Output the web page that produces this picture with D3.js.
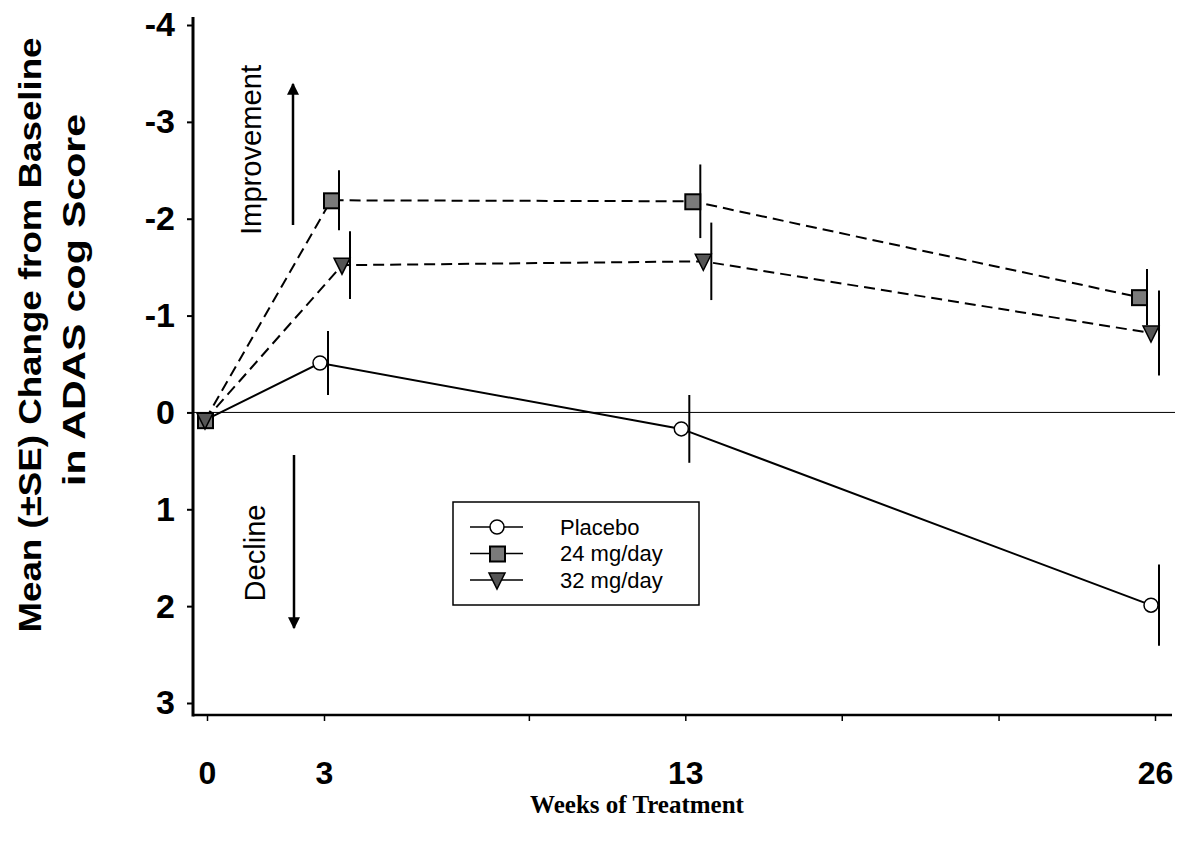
<!DOCTYPE html>
<html>
<head>
<meta charset="utf-8">
<script src="https://cdn.jsdelivr.net/npm/d3@7"></script>
<style>
  body { margin: 0; background: #fff; }
  svg { display: block; }
</style>
</head>
<body>
<svg id="chart"></svg>
<script>
// data (y = change in ADAS-cog, negative = improvement)
const weeks = [0, 3, 13, 26];
const placebo = [0.08, -0.51, 0.17, 1.99];
const placeboSE = [0, 0.33, 0.35, 0.42];
const mg24 = [0.08, -2.19, -2.18, -1.19];
const mg24SE = [0, 0.31, 0.38, 0.29];
const mg32 = [0.08, -1.52, -1.56, -0.82];
const mg32SE = [0, 0.35, 0.40, 0.44];
const seriesNames = ["Placebo", "24 mg/day", "32 mg/day"];
const yTicks = [-4, -3, -2, -1, 0, 1, 2, 3];
const xLabelTicks = [0, 3, 13, 26];
const xMinorTicks = [0, 3, 8.67, 13, 17.33, 21.67, 26];

const width = 1184, height = 842;
const svg = d3.select("#chart").attr("width", width).attr("height", height);

const x = d3.scaleLinear().domain([0, 3, 26]).range([207, 324, 1155]);
const y = d3.scaleLinear().domain([-4, 3]).range([25, 703]);
const axisX = 193, axisY = 715;
const sans = "Liberation Sans, Arial, sans-serif";

const series = [
    { name: seriesNames[0], values: placebo, se: placeboSE, shape: "circle", dash: null },
    { name: seriesNames[1], values: mg24, se: mg24SE, shape: "square", dash: "11,6" },
    { name: seriesNames[2], values: mg32, se: mg32SE, shape: "triangle", dash: "11,6" }
];
// small horizontal dodge (px) so markers do not overlap, per series and week index
const dodge = [[0, 0, 0, 0], [0, 11, 11, -12], [0, 22, 22, 0]];

// zero reference line
svg.append("line")
    .attr("x1", axisX).attr("x2", 1175)
    .attr("y1", y(0)).attr("y2", y(0))
    .attr("stroke", "#000").attr("stroke-width", 1);

// y axis
const yAxis = d3.axisLeft(y).tickValues(yTicks).tickSize(6).tickPadding(12)
    .tickFormat(d => String(d));
const gy = svg.append("g").attr("transform", `translate(${axisX},0)`).call(yAxis);
gy.select(".domain").remove();
gy.selectAll("line").attr("stroke-width", 2);
gy.selectAll("text")
    .style("font-family", sans)
    .style("font-weight", "bold").style("font-size", "34px").attr("fill", "#000");

// x axis
const xAxis = d3.axisBottom(x).tickValues(xMinorTicks).tickSize(6).tickPadding(40)
    .tickFormat(d => xLabelTicks.includes(d) ? String(d) : "");
const gx = svg.append("g").attr("transform", `translate(0,${axisY})`).call(xAxis);
gx.select(".domain").remove();
gx.selectAll("line").attr("stroke-width", 1.5);
gx.selectAll("text")
    .style("font-family", sans)
    .style("font-weight", "bold").style("font-size", "32px").attr("fill", "#000");

// axis lines
svg.append("line").attr("x1", axisX).attr("x2", axisX).attr("y1", 17).attr("y2", axisY + 1.5)
    .attr("stroke", "#000").attr("stroke-width", 3);
svg.append("line").attr("x1", axisX).attr("x2", 1172).attr("y1", axisY).attr("y2", axisY)
    .attr("stroke", "#000").attr("stroke-width", 2.5);

// axis titles
svg.append("text").attr("transform", "translate(30,335) rotate(-90)")
    .attr("dy", "0.35em").attr("text-anchor", "middle")
    .attr("textLength", 595).attr("lengthAdjust", "spacingAndGlyphs")
    .style("font-family", sans).style("font-weight", "bold").style("font-size", "32px")
    .text("Mean (±SE) Change from Baseline");
svg.append("text").attr("transform", "translate(74,300) rotate(-90)")
    .attr("dy", "0.35em").attr("text-anchor", "middle")
    .attr("textLength", 372).attr("lengthAdjust", "spacingAndGlyphs")
    .style("font-family", sans).style("font-weight", "bold").style("font-size", "32px")
    .text("in ADAS cog Score");

svg.append("text").attr("x", 637).attr("y", 813)
    .attr("text-anchor", "middle")
    .style("font-family", "Liberation Serif, Times New Roman, serif")
    .style("font-weight", "bold").style("font-size", "25px")
    .text("Weeks of Treatment");

// improvement / decline annotations
const defs = svg.append("defs");
defs.append("marker").attr("id", "head")
    .attr("viewBox", "0 0 10 10").attr("refX", 9).attr("refY", 5)
    .attr("markerWidth", 13).attr("markerHeight", 12).attr("markerUnits", "userSpaceOnUse")
    .attr("orient", "auto")
    .append("path").attr("d", "M0,0 L10,5 L0,10 Z").attr("fill", "#000");

svg.append("line").attr("x1", 293).attr("x2", 293).attr("y1", 225).attr("y2", 84)
    .attr("stroke", "#000").attr("stroke-width", 2.5).attr("marker-end", "url(#head)");
svg.append("line").attr("x1", 294).attr("x2", 294).attr("y1", 455).attr("y2", 628)
    .attr("stroke", "#000").attr("stroke-width", 2.5).attr("marker-end", "url(#head)");

svg.append("text").attr("transform", "translate(251,150) rotate(-90)")
    .attr("dy", "0.35em").attr("text-anchor", "middle")
    .attr("textLength", 170).attr("lengthAdjust", "spacingAndGlyphs")
    .style("font-family", sans).style("font-size", "29px")
    .text("Improvement");
svg.append("text").attr("transform", "translate(255,553) rotate(-90)")
    .attr("dy", "0.35em").attr("text-anchor", "middle")
    .attr("textLength", 97).attr("lengthAdjust", "spacingAndGlyphs")
    .style("font-family", sans).style("font-size", "29px")
    .text("Decline");

// marker drawing helper
function drawMarker(g, shape, cx, cy) {
    if (shape === "circle") {
        g.append("circle").attr("cx", cx).attr("cy", cy).attr("r", 7)
            .attr("fill", "#fff").attr("stroke", "#000").attr("stroke-width", 1.5);
    } else if (shape === "square") {
        g.append("rect").attr("x", cx - 7).attr("y", cy - 7).attr("width", 15).attr("height", 15)
            .attr("fill", "#7a7a7a").attr("stroke", "#000").attr("stroke-width", 2);
    } else {
        g.append("path").attr("d", `M${cx - 8},${cy - 7} L${cx + 8},${cy - 7} L${cx},${cy + 9} Z`)
            .attr("fill", "#555").attr("stroke", "#000").attr("stroke-width", 1.5);
    }
}

// series
series.forEach((s, si) => {
    const g = svg.append("g");
    const pts = weeks.map((w, i) => ({
        bx: x(w) + dodge[si][i] + (i === 0 ? 0 : 4),
        mx: x(w) + dodge[si][i] - (i === 0 ? 2 : 4),
        v: s.values[i],
        se: s.se[i]
    }));

    g.append("path")
        .datum(pts)
        .attr("d", d3.line().x(d => d.mx).y(d => y(d.v)))
        .attr("fill", "none").attr("stroke", "#000").attr("stroke-width", 2)
        .attr("stroke-dasharray", s.dash);

    // error bars
    g.selectAll(".err").data(pts.filter(d => d.se > 0))
        .enter().append("line").attr("class", "err")
        .attr("x1", d => d.bx).attr("x2", d => d.bx)
        .attr("y1", d => y(d.v - d.se)).attr("y2", d => y(d.v + d.se))
        .attr("stroke", "#000").attr("stroke-width", 2);

    pts.forEach(d => drawMarker(g, s.shape, d.mx, y(d.v)));
});

// legend
const legend = svg.append("g");
legend.append("rect").attr("x", 453).attr("y", 502).attr("width", 246).attr("height", 103)
    .attr("fill", "#fff").attr("stroke", "#000").attr("stroke-width", 1.5);
series.forEach((s, i) => {
    const ry = 527 + i * 26.5;
    legend.append("line").attr("x1", 470).attr("x2", 523).attr("y1", ry).attr("y2", ry)
        .attr("stroke", "#000").attr("stroke-width", 1.5);
    drawMarker(legend, s.shape, 497, ry);
    legend.append("text").attr("x", 560).attr("y", ry).attr("dy", "0.36em")
        .style("font-family", sans).style("font-size", "22px")
        .text(s.name);
});
</script>
</body>
</html>
